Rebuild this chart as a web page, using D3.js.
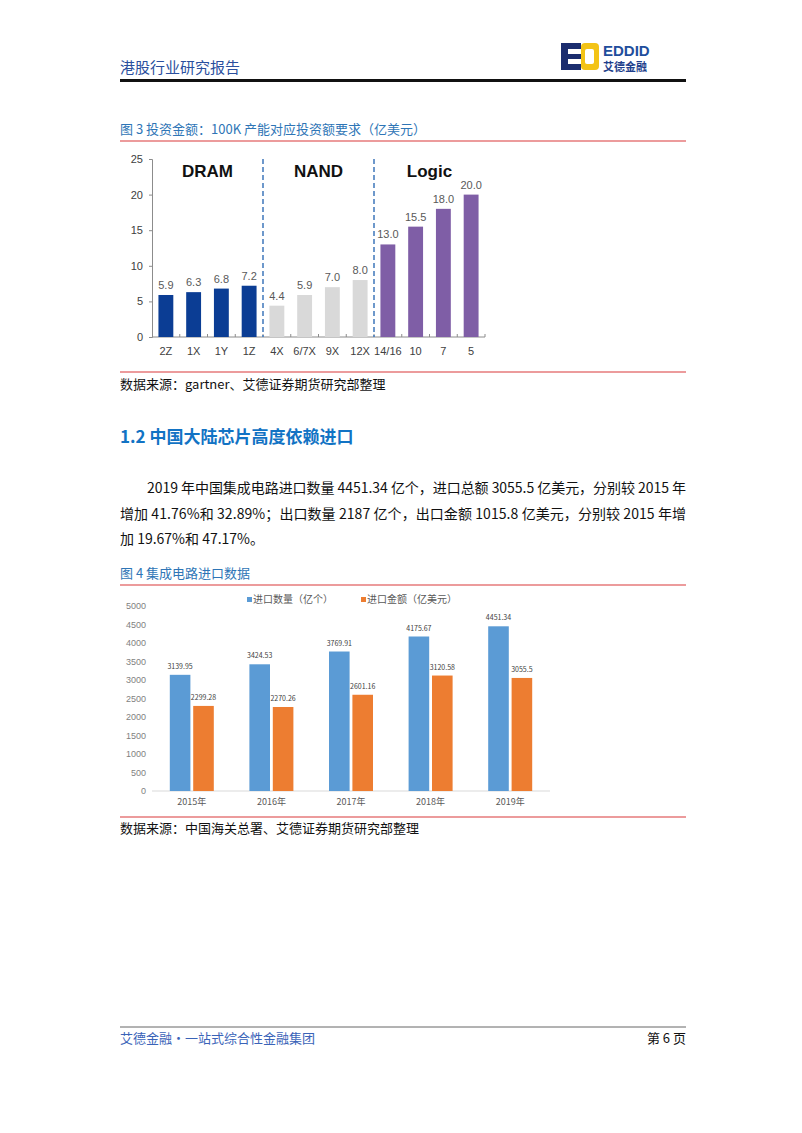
<!DOCTYPE html>
<html lang="zh-CN">
<head>
  <meta charset="UTF-8">
  <title>港股行业研究报告</title>
  <script src="https://cdn.jsdelivr.net/npm/d3@7"></script>
  <style>
    body { margin: 0; background: #fff; }
    svg { display: block; font-family: "Noto Sans CJK SC", "Noto Sans", sans-serif; }
  </style>
</head>
<body>
  <svg id="page" width="802" height="1133"></svg>
  <script>
    // 图3 数据
    const nodes = ['2Z', '1X', '1Y', '1Z', '4X', '6/7X', '9X', '12X', '14/16', '10', '7', '5'];
    const invest = [5.9, 6.3, 6.8, 7.2, 4.4, 5.9, 7.0, 8.0, 13.0, 15.5, 18.0, 20.0];
    const groups = ['DRAM', 'NAND', 'Logic'];
    const groupOf = ['DRAM', 'DRAM', 'DRAM', 'DRAM', 'NAND', 'NAND', 'NAND', 'NAND', 'Logic', 'Logic', 'Logic', 'Logic'];
    const investTicks = [0, 5, 10, 15, 20, 25];

    // 图4 数据
    const years = ['2015年', '2016年', '2017年', '2018年', '2019年'];
    const series = ['进口数量（亿个）', '进口金额（亿美元）'];
    const qty = [3139.95, 3424.53, 3769.91, 4175.67, 4451.34];
    const amt = [2299.28, 2270.26, 2601.16, 3120.58, 3055.5];
    const importTicks = [0, 500, 1000, 1500, 2000, 2500, 3000, 3500, 4000, 4500, 5000];

    const svg = d3.select('#page');
    svg.append('rect').attr('width', 802).attr('height', 1133).attr('fill', '#fff');

    // 页眉
    svg.append('text').attr('x', 120).attr('y', 73).attr('font-size', 15)
      .attr('fill', '#2a4f9e').text('港股行业研究报告');
    svg.append('rect').attr('x', 120).attr('y', 79).attr('width', 566).attr('height', 3).attr('fill', '#111');

    // 标志
    const logo = svg.append('g');
    logo.append('rect').attr('x', 561).attr('y', 43).attr('width', 20).attr('height', 27).attr('fill', '#1b2d6e');
    logo.append('rect').attr('x', 568).attr('y', 49).attr('width', 13).attr('height', 5).attr('fill', '#fff');
    logo.append('rect').attr('x', 568).attr('y', 59).attr('width', 13).attr('height', 5).attr('fill', '#fff');
    logo.append('rect').attr('x', 581).attr('y', 43).attr('width', 18).attr('height', 27).attr('rx', 4).attr('fill', '#f3c316');
    logo.append('rect').attr('x', 585).attr('y', 49).attr('width', 9).attr('height', 15).attr('rx', 2).attr('fill', '#fff');
    logo.append('text').attr('x', 603).attr('y', 56).attr('font-size', 15).attr('font-weight', 'bold')
      .attr('font-family', 'Liberation Sans, Arial, sans-serif').attr('fill', '#1f4e9c').text('EDDID');
    logo.append('text').attr('x', 603).attr('y', 71).attr('font-size', 11).attr('font-weight', 'bold')
      .attr('fill', '#1f3f8c').text('艾德金融');

    // 图3 标题
    svg.append('text').attr('x', 120).attr('y', 134).attr('font-size', 13)
      .attr('fill', '#2e75b6').text('图 3 投资金额：100K 产能对应投资额要求（亿美元）');
    svg.append('line').attr('x1', 120).attr('x2', 686).attr('y1', 141).attr('y2', 141)
      .attr('stroke', '#d9383a').attr('stroke-width', 1.2);

    // 图3 图表
    const c1 = svg.append('g').attr('font-family', 'Liberation Sans, Arial, sans-serif');
    const x1 = d3.scaleBand().domain(nodes).range([152, 485]).paddingInner(0.5).paddingOuter(0.25);
    const y1 = d3.scaleLinear().domain([0, 25]).range([337, 159]);
    const color1 = d3.scaleOrdinal().domain(groups).range(['#0b3d94', '#d9d9d9', '#7f5ea6']);

    const yAxis1 = c1.append('g').attr('transform', 'translate(152,0)')
      .call(d3.axisLeft(y1).tickValues(investTicks).tickSize(3).tickPadding(6));
    yAxis1.selectAll('text').attr('font-size', 11).attr('fill', '#404040');
    yAxis1.selectAll('line, path').attr('stroke', '#8c8c8c');

    c1.append('line').attr('x1', 152).attr('x2', 485).attr('y1', y1(0)).attr('y2', y1(0)).attr('stroke', '#8c8c8c');
    const step1 = (485 - 152) / nodes.length;
    d3.range(1, nodes.length + 1).forEach(i => {
      c1.append('line').attr('x1', 152 + i * step1).attr('x2', 152 + i * step1)
        .attr('y1', y1(0)).attr('y2', y1(0) - 3).attr('stroke', '#8c8c8c');
    });

    c1.selectAll('rect.bar').data(nodes).join('rect').attr('class', 'bar')
      .attr('x', d => x1(d) - 0.5)
      .attr('width', x1.bandwidth() + 1)
      .attr('y', (d, i) => y1(invest[i]))
      .attr('height', (d, i) => y1(0) - y1(invest[i]))
      .attr('fill', (d, i) => color1(groupOf[i]));

    c1.selectAll('text.val').data(nodes).join('text').attr('class', 'val')
      .attr('x', d => x1(d) + x1.bandwidth() / 2)
      .attr('y', (d, i) => y1(invest[i]) - 6)
      .attr('text-anchor', 'middle').attr('font-size', 11).attr('fill', '#595959')
      .text((d, i) => invest[i].toFixed(1));

    c1.selectAll('text.cat').data(nodes).join('text').attr('class', 'cat')
      .attr('x', d => x1(d) + x1.bandwidth() / 2)
      .attr('y', 355)
      .attr('text-anchor', 'middle').attr('font-size', 11).attr('fill', '#404040')
      .text(d => d);

    // 分组虚线与标题
    [4, 8].forEach(i => {
      c1.append('line').attr('x1', 152 + i * step1).attr('x2', 152 + i * step1)
        .attr('y1', y1(25)).attr('y2', y1(0))
        .attr('stroke', '#4a7fbf').attr('stroke-width', 1.6).attr('stroke-dasharray', '5,3');
    });
    groups.forEach((g, gi) => {
      const cx = 152 + (gi * 4 + 2) * step1;
      c1.append('text').attr('x', cx).attr('y', 177).attr('text-anchor', 'middle')
        .attr('font-size', 17).attr('font-weight', 'bold').attr('fill', '#111').text(g);
    });

    // 来源
    svg.append('line').attr('x1', 120).attr('x2', 686).attr('y1', 372).attr('y2', 372)
      .attr('stroke', '#d9383a').attr('stroke-width', 1.2);
    svg.append('text').attr('x', 120).attr('y', 389).attr('font-size', 13)
      .attr('fill', '#111').text('数据来源：gartner、艾德证券期货研究部整理');

    // 小节标题
    svg.append('text').attr('x', 120).attr('y', 443).attr('font-size', 17).attr('font-weight', 'bold')
      .attr('fill', '#1273c4').text('1.2 中国大陆芯片高度依赖进口');

    // 正文
    const para = [
      { x: 147, y: 493, w: 539, t: '2019 年中国集成电路进口数量 4451.34 亿个，进口总额 3055.5 亿美元，分别较 2015 年' },
      { x: 120, y: 519, w: 566, t: '增加 41.76%和 32.89%；出口数量 2187 亿个，出口金额 1015.8 亿美元，分别较 2015 年增' },
      { x: 120, y: 544, w: null, t: '加 19.67%和 47.17%。' }
    ];
    para.forEach(p => {
      const t = svg.append('text').attr('x', p.x).attr('y', p.y).attr('font-size', 14)
        .attr('fill', '#111').text(p.t);
      if (p.w) t.attr('textLength', p.w).attr('lengthAdjust', 'spacing');
    });

    // 图4 标题
    svg.append('text').attr('x', 120).attr('y', 578).attr('font-size', 13)
      .attr('fill', '#2e75b6').text('图 4 集成电路进口数据');
    svg.append('line').attr('x1', 120).attr('x2', 686).attr('y1', 585).attr('y2', 585)
      .attr('stroke', '#d9383a').attr('stroke-width', 1.2);

    // 图4 图表
    const c2 = svg.append('g');
    const x2 = d3.scaleBand().domain(years).range([152, 550]);
    const xs = d3.scaleBand().domain(series).range([0, 44]).paddingInner(0.12);
    const y2 = d3.scaleLinear().domain([0, 5000]).range([791, 606]);
    const color2 = d3.scaleOrdinal().domain(series).range(['#5b9bd5', '#ed7d31']);
    const vals = [qty, amt];

    const yAxis2 = c2.append('g').attr('transform', 'translate(146,0)')
      .call(d3.axisLeft(y2).tickValues(importTicks).tickFormat(d3.format('d')).tickSize(0).tickPadding(0));
    yAxis2.select('.domain').remove();
    yAxis2.selectAll('text').attr('font-size', 9).attr('fill', '#7f7f7f');

    c2.append('line').attr('x1', 152).attr('x2', 550).attr('y1', y2(0)).attr('y2', y2(0))
      .attr('stroke', '#d9d9d9');

    series.forEach((s, si) => {
      const g = c2.append('g');
      g.selectAll('rect').data(years).join('rect')
        .attr('x', d => x2(d) + x2.bandwidth() / 2 - 22 + xs(s))
        .attr('width', xs.bandwidth())
        .attr('y', (d, i) => y2(vals[si][i]))
        .attr('height', (d, i) => y2(0) - y2(vals[si][i]))
        .attr('fill', color2(s));
      g.selectAll('text').data(years).join('text')
        .attr('x', d => x2(d) + x2.bandwidth() / 2 - 22 + xs(s) + xs.bandwidth() / 2)
        .attr('y', (d, i) => y2(vals[si][i]) - 6)
        .attr('text-anchor', 'middle').attr('font-size', 7).attr('fill', '#404040')
        .text((d, i) => vals[si][i]);
    });

    c2.selectAll('text.yr').data(years).join('text').attr('class', 'yr')
      .attr('x', d => x2(d) + x2.bandwidth() / 2)
      .attr('y', 805)
      .attr('text-anchor', 'middle').attr('font-size', 9).attr('fill', '#595959')
      .text(d => d);

    // 图例
    const legX = [247, 361];
    series.forEach((s, si) => {
      c2.append('rect').attr('x', legX[si]).attr('y', 597).attr('width', 5).attr('height', 5)
        .attr('fill', color2(s));
      c2.append('text').attr('x', legX[si] + 6).attr('y', 603).attr('font-size', 10)
        .attr('fill', '#595959').text(s);
    });

    // 来源
    svg.append('line').attr('x1', 120).attr('x2', 686).attr('y1', 817).attr('y2', 817)
      .attr('stroke', '#d9383a').attr('stroke-width', 1.2);
    svg.append('text').attr('x', 120).attr('y', 833).attr('font-size', 13)
      .attr('fill', '#111').text('数据来源：中国海关总署、艾德证券期货研究部整理');

    // 页脚
    svg.append('line').attr('x1', 120).attr('x2', 686).attr('y1', 1027).attr('y2', 1027)
      .attr('stroke', '#666').attr('stroke-width', 1);
    svg.append('text').attr('x', 120).attr('y', 1043).attr('font-size', 13)
      .attr('fill', '#3a63b8').text('艾德金融·一站式综合性金融集团');
    svg.append('text').attr('x', 686).attr('y', 1043).attr('font-size', 13).attr('text-anchor', 'end')
      .attr('fill', '#111').text('第 6 页');
  </script>
</body>
</html>
